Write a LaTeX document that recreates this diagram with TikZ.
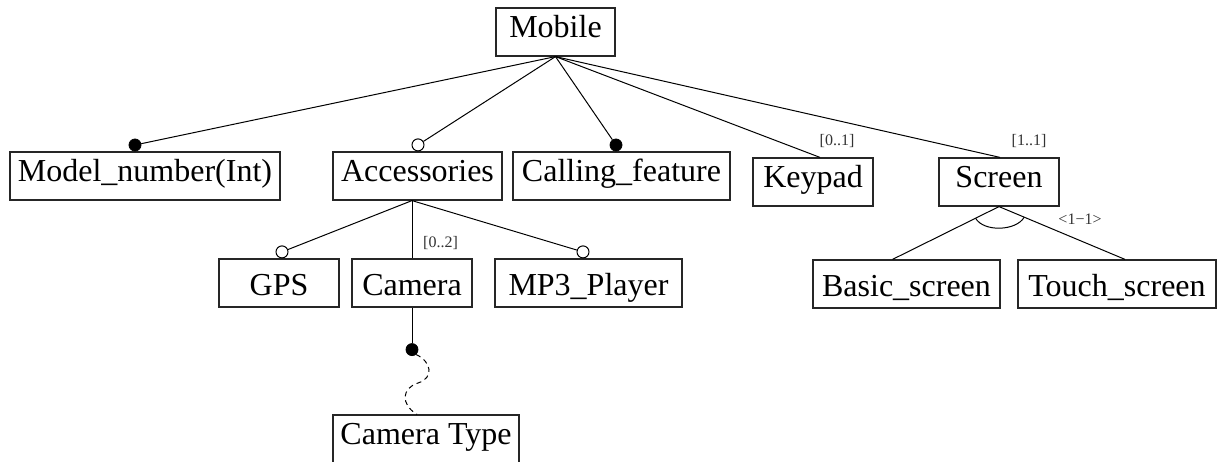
\documentclass[tikz,border=0pt]{standalone}
\usepackage{fontspec}
\setmainfont{Liberation Serif}
\usetikzlibrary{calc}
\begin{document}
\begin{tikzpicture}[x=1pt,y=-1pt,
  feat/.style={draw=black!85, line width=1.2pt, inner sep=0pt, minimum height=48pt,
    text height=22.5pt, text depth=11.5pt, font=\fontsize{32}{38}\selectfont},
  featlow/.style={feat, text height=29.5pt, text depth=4.5pt},
  link/.style={draw=black, line width=1pt},
  mand/.style={circle, fill=black, draw=black, line width=0.8pt, inner sep=0pt, minimum size=12pt},
  opt/.style={circle, fill=white, draw=black, line width=1pt, inner sep=0pt, minimum size=12pt},
  card/.style={font=\fontsize{16}{18}\selectfont, inner sep=0pt, text=black!80},
  refine/.style={draw=black, line width=1pt, dash pattern=on 5pt off 4pt}]
\useasboundingbox (0,0) rectangle (1222,462);
\fill[white] (0,0) rectangle (1222,462);

% features
\node[feat, minimum width=119pt] (mobile) at (555.5,32) {Mobile};
\node[feat, minimum width=270pt] (model) at (145,176) {Model\_number(Int)};
\node[feat, minimum width=169pt] (acc) at (417.5,176) {Accessories};
\node[feat, minimum width=217pt] (call) at (621.5,176) {Calling\_feature};
\node[feat, minimum width=120pt] (keypad) at (813,182) {Keypad};
\node[feat, minimum width=120pt] (screen) at (999,182) {Screen};
\node[featlow, minimum width=120pt] (gps) at (279,283) {GPS};
\node[featlow, minimum width=120pt] (camera) at (412,283) {Camera};
\node[featlow, minimum width=187pt] (mp3) at (588.5,283) {MP3\_Player};
\node[featlow, minimum width=187pt] (basic) at (906.5,284) {Basic\_screen};
\node[featlow, minimum width=198pt] (touch) at (1117,284) {Touch\_screen};
\node[feat, minimum width=186pt] (camtype) at (426,439) {Camera Type};

% mandatory / optional markers
\node[mand, anchor=south] (mmodel) at ([xshift=-10pt]model.north) {};
\node[opt,  anchor=south] (macc)   at ([xshift=0.5pt]acc.north) {};
\node[mand, anchor=south] (mcall)  at ([xshift=-5.5pt]call.north) {};
\node[opt,  anchor=south] (mgps)   at ([xshift=3pt]gps.north) {};
\node[opt,  anchor=south] (mmp3)   at ([xshift=-5.5pt]mp3.north) {};

% root connectors
\coordinate (root) at (mobile.south);
\draw[link] (root) -- (mmodel);
\draw[link] (root) -- (macc);
\draw[link] (root) -- (mcall);
\draw[link] (root) -- ([xshift=7pt]keypad.north);
\draw[link] (root) -- ([xshift=1pt]screen.north);
\node[card] at ([xshift=24pt,yshift=16pt]keypad.north) {[0..1]};
\node[card] at ([xshift=30pt,yshift=16pt]screen.north) {[1..1]};

% accessories group
\coordinate (accb) at ([xshift=-5.5pt]acc.south);
\draw[link] (accb) -- (mgps);
\draw[link] (accb) -- (camera.north);
\draw[link] (accb) -- (mmp3);
\node[card] at ([xshift=28.5pt,yshift=15pt]camera.north) {[0..2]};

% camera type reference
\node[mand] (camdot) at ([yshift=-42pt]camera.south) {};
\draw[link] (camera.south) -- (camdot);
\coordinate (bend) at (418,383);
\draw[refine] (camdot.-50) .. controls (432,362) and (434,378) .. (bend)
  .. controls (402,388) and (400,404) .. ([xshift=-9pt]camtype.north);

% screen alternative group
\coordinate (sb) at ([xshift=-14pt]basic.north);
\coordinate (st) at ([xshift=8pt]touch.north);
\draw[link] (screen.south) -- (sb);
\draw[link] (screen.south) -- (st);
\draw[link] ($(screen.south)!0.22!(sb)$) .. controls +(8,14) and +(-8,14) .. ($(screen.south)!0.2!(st)$);
\node[card] at ([xshift=81pt,yshift=-13pt]screen.south) {<1−1>};
\end{tikzpicture}
\end{document}
